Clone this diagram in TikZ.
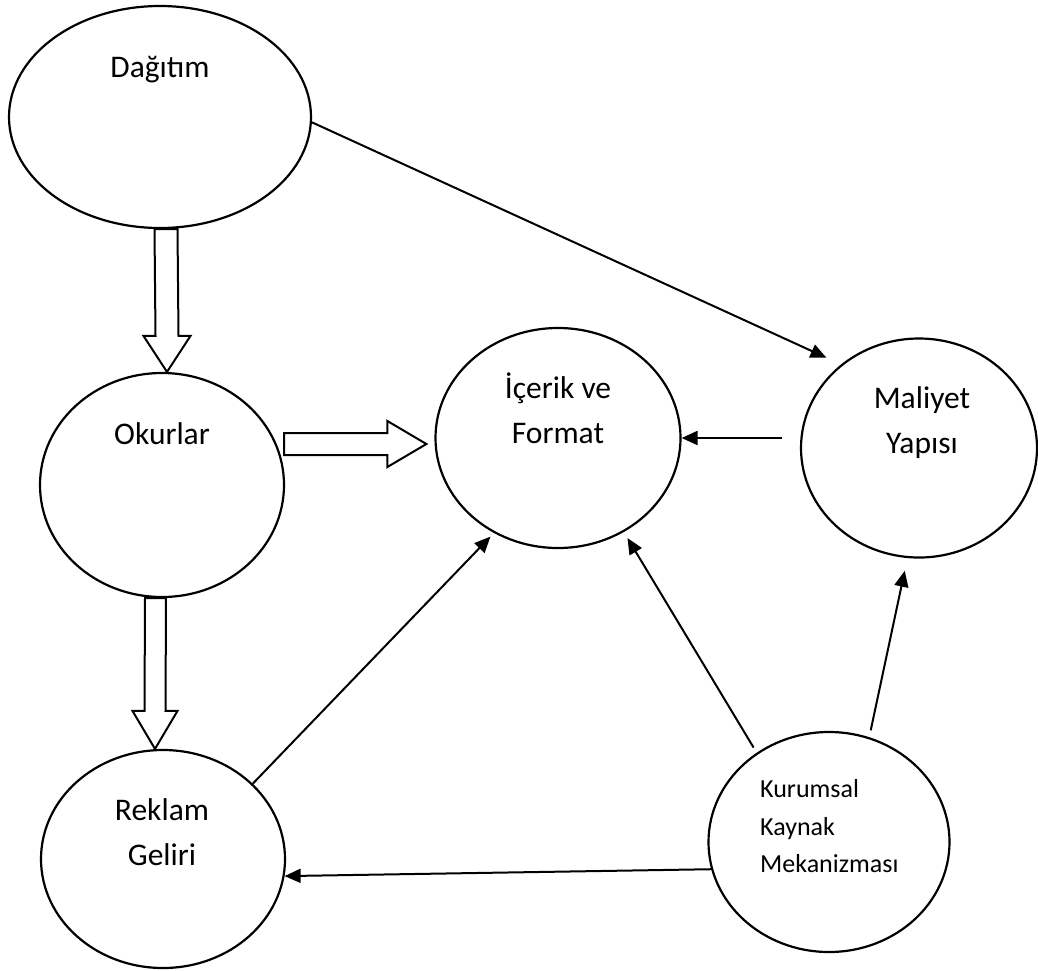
\documentclass[tikz,border=0pt]{standalone}
\usepackage{fontspec}
\setmainfont{Carlito}
\usetikzlibrary{arrows.meta,calc,shapes.geometric}
\begin{document}
\begin{tikzpicture}[x=1pt,y=-1pt,
  ell/.style={draw,ellipse,line width=2.2pt,inner sep=0pt},
  lbl/.style={anchor=base,inner sep=0pt,font=\fontsize{31.5}{45}\selectfont},
  lbls/.style={anchor=base west,inner sep=0pt,font=\fontsize{26}{37}\selectfont},
  conn/.style={line width=2pt,-{Triangle[length=16pt,width=14pt]}},
  blk/.style={draw,line width=2pt,line join=miter}]
\useasboundingbox (0,0) rectangle (1038,970);
% ellipses
\node[ell,minimum width=302pt,minimum height=222pt] (dag) at (160,117) {};
\node[ell,minimum width=244pt,minimum height=224pt] (oku) at (162,485) {};
\node[ell,minimum width=244pt,minimum height=218pt] (rek) at (163,859) {};
\node[ell,minimum width=245pt,minimum height=220pt] (ico) at (558,438) {};
\node[ell,minimum width=236pt,minimum height=219pt] (mal) at (919,448) {};
\node[ell,minimum width=241pt,minimum height=220pt] (kur) at (829,842) {};
% labels
\node[lbl] (tdag) at (160,77) {Dağıtım};
\node[lbl] (toku) at (162,444) {Okurlar};
\node[lbl] (tico1) at (558,398) {İçerik ve};
\node[lbl] (tico2) at (558,443) {Format};
\node[lbl] (tmal1) at (922,408) {Maliyet};
\node[lbl] (tmal2) at (922,453) {Yapısı};
\node[lbl] (trek1) at (162,820) {Reklam};
\node[lbl] (trek2) at (162,865) {Geliri};
\node[lbls] (tkur1) at (760,797) {Kurumsal};
\node[lbls] (tkur2) at (760,835) {Kaynak};
\node[lbls] (tkur3) at (760,872) {Mekanizması};
% thin connectors
\draw[conn,shorten >=16pt] (dag.-2) -- (mal.133);
\draw[conn,shorten <=18pt] (mal.west |- ico.east) -- (ico.east);
\draw[conn,shorten >=5pt] (rek.40.5) -- (ico.236);
\draw[conn,shorten <=6pt,shorten >=7pt] (kur.129) -- (ico.305);
\draw[conn,shorten <=7pt,shorten >=13pt] (kur.69) -- (mal.264);
\draw[conn] (kur.193) -- (rek.352.5);
% block arrows
\coordinate (b1s) at ($(dag.south)+(6,0)$);
\coordinate (b1t) at ($(oku.north)+(5,0)$);
\draw[blk] ($(b1s)+(-11.5,0)$) -- ($(b1t)+(-11.5,-36)$) -- ($(b1t)+(-23.5,-36)$) -- (b1t)
  -- ($(b1t)+(23.5,-36)$) -- ($(b1t)+(11.5,-36)$) -- ($(b1s)+(11.5,0)$) -- cycle;
\coordinate (b2s) at ($(oku.south)+(-6.5,0)$);
\coordinate (b2t) at ($(rek.north)+(-8,0)$);
\draw[blk] ($(b2s)+(-10.5,0)$) -- ($(b2t)+(-10.5,-38)$) -- ($(b2t)+(-22.5,-38)$) -- (b2t)
  -- ($(b2t)+(22.5,-38)$) -- ($(b2t)+(10.5,-38)$) -- ($(b2s)+(10.5,0)$) -- cycle;
\coordinate (b3s) at ($(oku.east)+(-1,-41)$);
\coordinate (b3t) at ($(ico.west)+(-8,6)$);
\draw[blk] ($(b3s)+(0,-11)$) -- ($(b3t)+(-39,-11)$) -- ($(b3t)+(-39,-23)$) -- (b3t)
  -- ($(b3t)+(-39,23)$) -- ($(b3t)+(-39,11)$) -- ($(b3s)+(0,11)$) -- cycle;
\end{tikzpicture}
\end{document}
